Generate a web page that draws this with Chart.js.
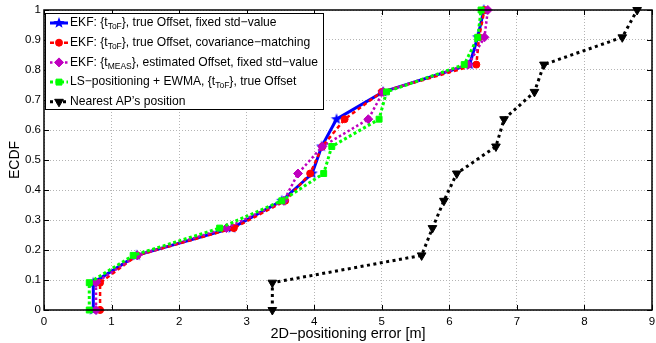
<!DOCTYPE html>
<html>
<head>
<meta charset="utf-8">
<script src="https://cdn.jsdelivr.net/npm/chart.js@4/dist/chart.umd.min.js"></script>
<style>
  html, body { margin: 0; padding: 0; background: #fff; }
  #wrap { width: 656px; height: 343px; }
</style>
</head>
<body>
<div id="wrap"><canvas id="ecdfChart" width="656" height="343"></canvas></div>
<script>
// ECDF steps (y) shared by all curves
const ecdfLevels = [0, 0.091, 0.182, 0.273, 0.364, 0.455, 0.545, 0.636, 0.727, 0.818, 0.909, 1];

// 2D positioning error [m] for each curve (x)
const errEkfFixed   = [0.73, 0.73, 1.37, 2.78, 3.52, 3.97, 4.11, 4.33, 5.02, 6.30, 6.42, 6.51];
const errEkfCovMatch = [0.83, 0.83, 1.38, 2.81, 3.57, 3.94, 4.12, 4.45, 5.00, 6.40, 6.44, 6.52];
const errEkfEstOff  = [0.77, 0.77, 1.38, 2.70, 3.55, 3.76, 4.12, 4.80, 5.02, 6.28, 6.52, 6.57];
const errLsEwma     = [0.67, 0.67, 1.32, 2.60, 3.52, 4.14, 4.26, 4.96, 5.07, 6.22, 6.42, 6.47];
const errNearestAp  = [3.38, 3.38, 5.59, 5.75, 5.92, 6.11, 6.69, 6.81, 7.26, 7.40, 8.56, 8.78];

// legend text: [text, isSubscript]
const legendTexts = [
  [['EKF: {t', 0], ['ToF', 1], ['}, true Offset, fixed std\u2212value', 0]],
  [['EKF: {t', 0], ['ToF', 1], ['}, true Offset, covariance\u2212matching', 0]],
  [['EKF: {t', 0], ['MEAS', 1], ['}, estimated Offset, fixed std\u2212value', 0]],
  [['LS\u2212positioning + EWMA, {t', 0], ['ToF', 1], ['}, true Offset', 0]],
  [['Nearest AP\u2019s position', 0]]
];

const xTitle = '2D\u2212positioning error [m]';
const yTitle = 'ECDF';

function toPoints(xs) {
  return xs.map((x, i) => ({ x: x, y: ecdfLevels[i] }));
}

// filled 5-point star (MATLAB pentagram)
function makeStar(color, r) {
  const c = document.createElement('canvas');
  const s = Math.ceil(r * 2 + 2);
  c.width = s; c.height = s;
  const g = c.getContext('2d');
  g.fillStyle = color;
  g.beginPath();
  for (let k = 0; k < 10; k++) {
    const rad = k % 2 === 0 ? r : r * 0.42;
    const a = -Math.PI / 2 + k * Math.PI / 5;
    const px = s / 2 + rad * Math.cos(a), py = s / 2 + rad * Math.sin(a);
    if (k === 0) g.moveTo(px, py); else g.lineTo(px, py);
  }
  g.closePath();
  g.fill();
  return c;
}
const blueStar = makeStar('#0000ff', 6);

const FONT = '"Liberation Sans", Arial, Helvetica, sans-serif';

// plot box like the matlab figure: right edge at 652
const fixArea = {
  id: 'fixArea',
  afterLayout(chart) {
    const a = chart.chartArea, xs = chart.scales.x;
    a.right = 652; a.width = a.right - a.left;
    xs.right = 652; xs.width = xs.right - xs.left;
    xs.configure();
  }
};

// box, inward ticks and the legend, MATLAB style
const matlabBits = {
  id: 'matlabBits',
  afterDraw(chart) {
    const ctx = chart.ctx;
    const a = chart.chartArea;
    const xs = chart.scales.x, ys = chart.scales.y;
    ctx.save();
    ctx.strokeStyle = '#000';
    ctx.lineWidth = 1;
    ctx.beginPath();
    xs.ticks.forEach(t => {
      const px = Math.round(xs.getPixelForValue(t.value)) + 0.5;
      ctx.moveTo(px, a.bottom); ctx.lineTo(px, a.bottom - 5);
      ctx.moveTo(px, a.top); ctx.lineTo(px, a.top + 5);
    });
    ys.ticks.forEach(t => {
      const py = Math.round(ys.getPixelForValue(t.value)) + 0.5;
      ctx.moveTo(a.left, py); ctx.lineTo(a.left + 5, py);
      ctx.moveTo(a.right, py); ctx.lineTo(a.right - 5, py);
    });
    ctx.stroke();
    ctx.lineWidth = 1.5;
    ctx.strokeRect(a.left, a.top, a.right - a.left, a.bottom - a.top);

    // legend
    const lx = a.left + 1, ly = a.top + 3, lw = 278, lh = 96;
    ctx.fillStyle = '#fff';
    ctx.fillRect(lx, ly, lw, lh);
    ctx.lineWidth = 1;
    ctx.strokeRect(lx + 0.5, ly + 0.5, lw, lh);
    chart.data.datasets.forEach((ds, i) => {
      const cy = ly + 10 + i * 19.7;
      ctx.save();
      ctx.strokeStyle = ds.borderColor;
      ctx.lineWidth = ds.borderWidth;
      ctx.setLineDash(ds.borderDash || []);
      ctx.beginPath();
      ctx.moveTo(lx + 5, cy); ctx.lineTo(lx + 23, cy);
      ctx.stroke();
      ctx.setLineDash([]);
      ctx.fillStyle = ds.pointBackgroundColor;
      ctx.strokeStyle = ds.pointBorderColor;
      ctx.lineWidth = ds.pointBorderWidth;
      Chart.helpers.drawPoint(ctx, {
        pointStyle: ds.pointStyle, radius: ds.pointRadius,
        rotation: ds.pointRotation || 0, borderWidth: ds.pointBorderWidth
      }, lx + 14, cy);
      ctx.restore();
      let tx = lx + 25;
      ctx.fillStyle = '#000';
      ctx.textBaseline = 'middle';
      legendTexts[i].forEach(seg => {
        if (seg[1]) {
          ctx.font = '8.5px ' + FONT;
          ctx.fillText(seg[0], tx, cy + 4);
        } else {
          ctx.font = '12.1px ' + FONT;
          ctx.fillText(seg[0], tx, cy);
        }
        tx += ctx.measureText(seg[0]).width;
      });
    });
    ctx.restore();
  }
};

const ctx = document.getElementById('ecdfChart').getContext('2d');

const ecdfChart = new Chart(ctx, {
  type: 'line',
  data: {
    datasets: [{
      data: toPoints(errEkfFixed),
      borderColor: '#0000ff', borderWidth: 3,
      pointStyle: blueStar, pointRadius: 6,
      pointBackgroundColor: '#0000ff', pointBorderColor: '#0000ff', pointBorderWidth: 1,
      order: 5
    }, {
      data: toPoints(errEkfCovMatch),
      borderColor: '#ff0000', borderWidth: 2.5, borderDash: [4, 3],
      pointStyle: 'circle', pointRadius: 3.5,
      pointBackgroundColor: '#ff0000', pointBorderColor: '#ff0000', pointBorderWidth: 1,
      order: 4
    }, {
      data: toPoints(errEkfEstOff),
      borderColor: '#bf00bf', borderWidth: 2.5, borderDash: [2.5, 2.5],
      pointStyle: 'rectRot', pointRadius: 4.5,
      pointBackgroundColor: '#bf00bf', pointBorderColor: '#bf00bf', pointBorderWidth: 1,
      order: 3
    }, {
      data: toPoints(errLsEwma),
      borderColor: '#00ff00', borderWidth: 3, borderDash: [3, 2.5],
      pointStyle: 'rect', pointRadius: 4.2,
      pointBackgroundColor: '#00ff00', pointBorderColor: '#00ff00', pointBorderWidth: 1,
      order: 2
    }, {
      data: toPoints(errNearestAp),
      borderColor: '#000000', borderWidth: 3, borderDash: [3, 3.5],
      pointStyle: 'triangle', pointRotation: 180, pointRadius: 5,
      pointBackgroundColor: '#000000', pointBorderColor: '#000000', pointBorderWidth: 1,
      order: 1
    }]
  },
  options: {
    responsive: false,
    animation: false,
    devicePixelRatio: 1,
    layout: { padding: { top: 10, right: 0, left: 0, bottom: 0 } },
    plugins: { legend: { display: false }, tooltip: { enabled: false } },
    elements: { line: { tension: 0, fill: false } },
    datasets: { line: { clip: false } },
    scales: {
      x: {
        type: 'linear', min: 0, max: 9,
        ticks: { stepSize: 1, color: '#000', padding: 5, maxRotation: 0,
                 font: { family: FONT, size: 11.5 } },
        grid: { color: '#b4b4b4', lineWidth: 1, drawTicks: false },
        border: { display: false, dash: [1, 2] },
        title: { display: true, text: xTitle, color: '#000',
                 font: { family: FONT, size: 14.5 }, padding: { top: 0, bottom: 0 } },
        afterFit: s => { s.height = 33; }
      },
      y: {
        type: 'linear', min: 0, max: 1,
        ticks: { stepSize: 0.1, color: '#000', padding: 3,
                 font: { family: FONT, size: 11.5 },
                 callback: v => String(Number(v.toFixed(1))) },
        grid: { color: '#b4b4b4', lineWidth: 1, drawTicks: false },
        border: { display: false, dash: [1, 2] },
        title: { display: true, text: yTitle, color: '#000',
                 font: { family: FONT, size: 14 }, padding: { top: 7, bottom: 0 } },
        afterFit: s => { s.width = 44; s.paddingTop = 0; s.paddingBottom = 0; }
      }
    }
  },
  plugins: [fixArea, matlabBits]
});
</script>
</body>
</html>
